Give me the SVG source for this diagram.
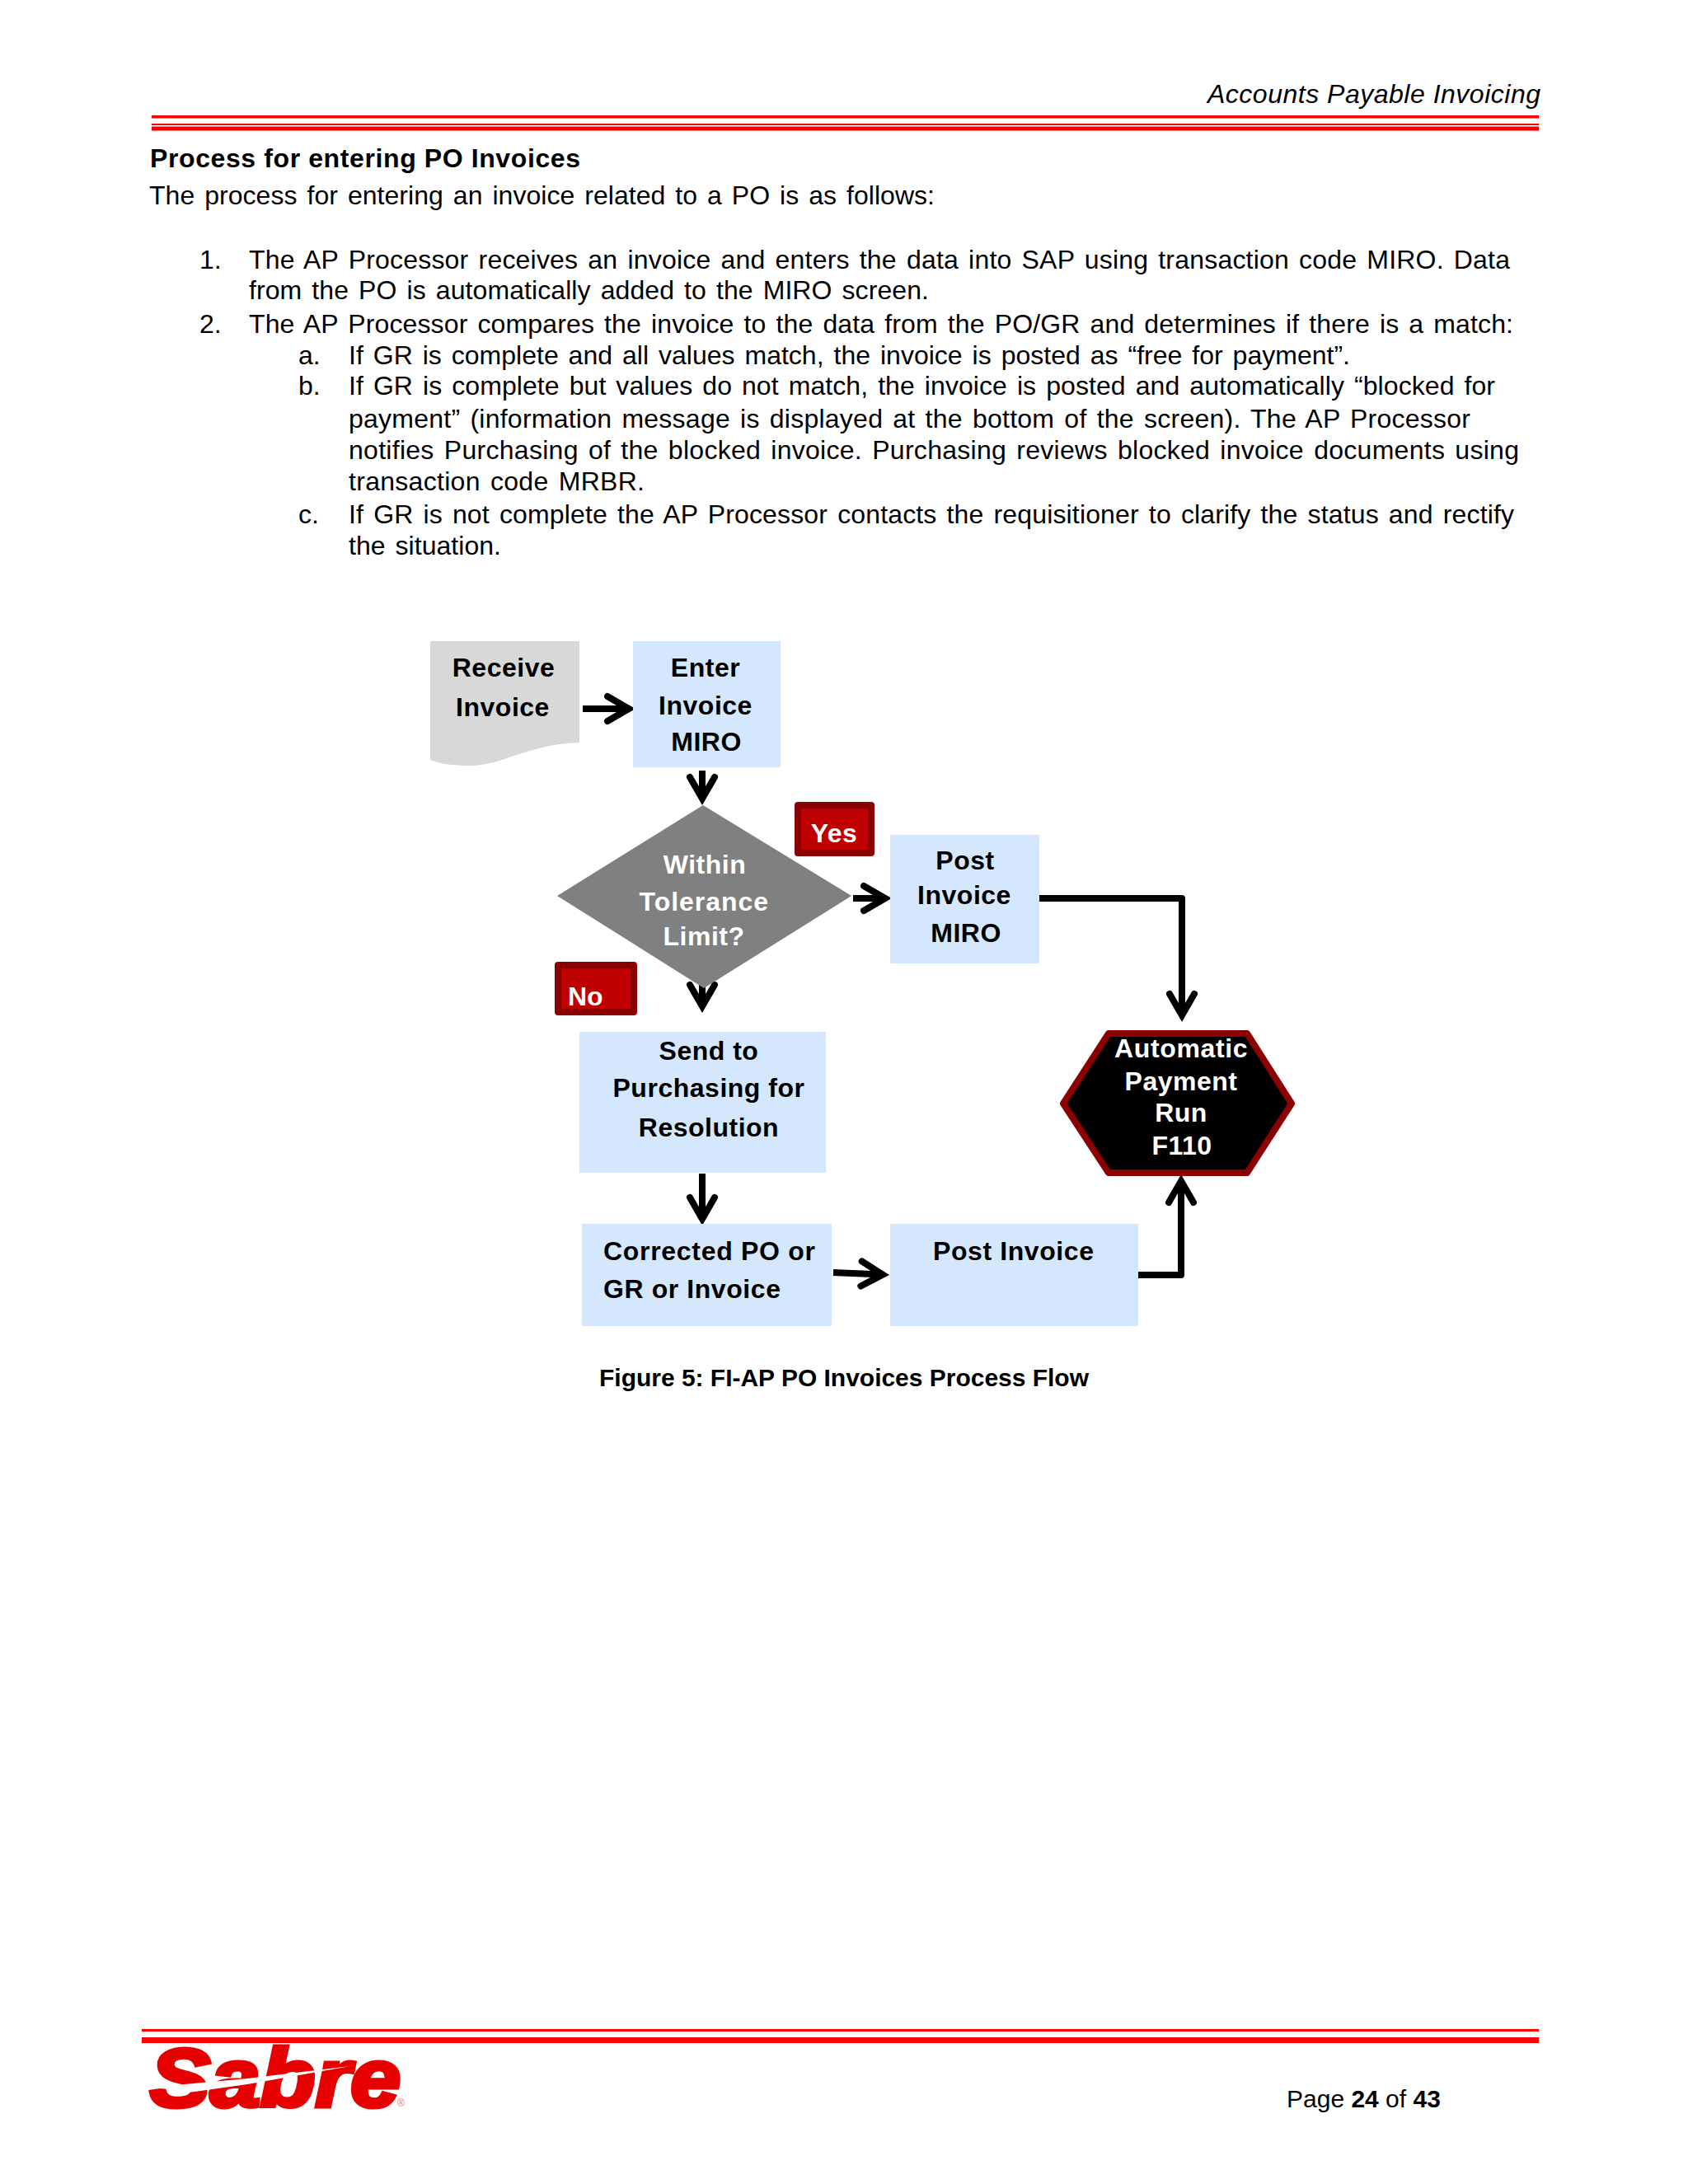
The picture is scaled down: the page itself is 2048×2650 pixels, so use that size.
<svg xmlns="http://www.w3.org/2000/svg" width="2048" height="2650" viewBox="0 0 2048 2650">
<style>
text{font-family:"Liberation Sans",Arial,sans-serif;font-size:32px;fill:#000}
.b{font-weight:700}
.t{word-spacing:3px}
.c{font-weight:700;text-anchor:middle;letter-spacing:.5px}
.w{fill:#fff}
.box{fill:#d4e7fd}
.rule{fill:#f00}
.tag{fill:#bf0000;stroke:#8b0000;stroke-width:8;stroke-linejoin:round}
.conn{fill:none;stroke:#000;stroke-width:8;stroke-linejoin:round}
</style>
<defs>
<marker id="head" markerUnits="userSpaceOnUse" viewBox="-36 -22 48 44" refX="0" refY="0" markerWidth="48" markerHeight="44" orient="auto">
<path d="M-26,-15 L0,0 L-26,15" fill="none" stroke="#000" stroke-width="8" stroke-linecap="round" stroke-linejoin="miter" stroke-miterlimit="10"/>
</marker>
</defs>
<rect width="2048" height="2650" fill="#fff"/>

<g id="header">
<text x="1465" y="125" font-style="italic" textLength="404">Accounts Payable Invoicing</text>
<rect class="rule" x="184" y="140" width="1683" height="3.5"/>
<rect class="rule" x="184" y="150" width="1683" height="2"/>
<rect class="rule" x="184" y="153.5" width="1683" height="5"/>
</g>

<g id="body">
<text class="b" x="182" y="203" textLength="522">Process for entering PO Invoices</text>
<text class="t" x="181" y="248" textLength="953">The process for entering an invoice related to a PO is as follows:</text>
<text x="242" y="326">1.</text>
<text class="t" x="302" y="326" textLength="1530">The AP Processor receives an invoice and enters the data into SAP using transaction code MIRO. Data</text>
<text class="t" x="302" y="363" textLength="825">from the PO is automatically added to the MIRO screen.</text>
<text x="242" y="404">2.</text>
<text class="t" x="302" y="404" textLength="1534">The AP Processor compares the invoice to the data from the PO/GR and determines if there is a match:</text>
<text x="362" y="442">a.</text>
<text class="t" x="423" y="442" textLength="1215">If GR is complete and all values match, the invoice is posted as “free for payment”.</text>
<text x="362" y="479">b.</text>
<text class="t" x="423" y="479" textLength="1391">If GR is complete but values do not match, the invoice is posted and automatically “blocked for</text>
<text class="t" x="423" y="519" textLength="1361">payment” (information message is displayed at the bottom of the screen). The AP Processor</text>
<text class="t" x="423" y="557" textLength="1420">notifies Purchasing of the blocked invoice. Purchasing reviews blocked invoice documents using</text>
<text class="t" x="423" y="595" textLength="359">transaction code MRBR.</text>
<text x="362" y="635">c.</text>
<text class="t" x="423" y="635" textLength="1414">If GR is not complete the AP Processor contacts the requisitioner to clarify the status and rectify</text>
<text class="t" x="423" y="673" textLength="185">the situation.</text>
</g>

<g id="connectors">
<path class="conn" marker-end="url(#head)" d="M707,860 L763,860"/>
<path class="conn" marker-end="url(#head)" d="M852,935 L852,969"/>
<path class="conn" marker-end="url(#head)" d="M1035,1090 L1074,1090"/>
<path class="conn" marker-end="url(#head)" d="M852,1195 L852,1221"/>
<path class="conn" marker-end="url(#head)" d="M852,1424 L852,1479"/>
<path class="conn" marker-end="url(#head)" d="M1011,1544 L1071,1546.6"/>
<path class="conn" marker-end="url(#head)" d="M1378,1547 L1433,1547 L1433,1433"/>
<path class="conn" marker-end="url(#head)" d="M1260,1090 L1434,1090 L1434,1232"/>
</g>

<g id="receive-invoice">
<path d="M522,778 H703 V901 C640,903 610,929 570,929 C550,929 535,927 522,922 Z" fill="#d8d8d8"/>
<text class="c" x="611" y="821">Receive</text>
<text class="c" x="610" y="869">Invoice</text>
</g>
<g id="enter-invoice">
<rect class="box" x="768" y="778" width="179" height="153"/>
<text class="c" x="856" y="821">Enter</text>
<text class="c" x="856" y="867">Invoice</text>
<text class="c" x="857" y="911">MIRO</text>
</g>
<g id="tolerance-decision">
<polygon points="853,977 1033,1087 854,1199 676,1087" fill="#808080"/>
<text class="c w" x="855" y="1060">Within</text>
<text class="c w" x="854" y="1105" textLength="157">Tolerance</text>
<text class="c w" x="854" y="1147">Limit?</text>
</g>
<g id="yes-tag">
<rect class="tag" x="968" y="977" width="89" height="58"/>
<text class="c w" x="1012" y="1022">Yes</text>
</g>
<g id="no-tag">
<rect class="tag" x="677" y="1171" width="92" height="57"/>
<text class="b w" x="689" y="1220">No</text>
</g>
<g id="post-invoice-miro">
<rect class="box" x="1080" y="1013" width="181" height="156"/>
<text class="c" x="1171" y="1055">Post</text>
<text class="c" x="1170" y="1097">Invoice</text>
<text class="c" x="1172" y="1143">MIRO</text>
</g>
<g id="send-to-purchasing">
<rect class="box" x="703" y="1252" width="299" height="171"/>
<text class="c" x="860" y="1286">Send to</text>
<text class="c" x="860" y="1331" textLength="233">Purchasing for</text>
<text class="c" x="860" y="1379">Resolution</text>
</g>
<g id="corrected-po">
<rect class="box" x="706" y="1485" width="303" height="124"/>
<text class="b" x="732" y="1529" textLength="257">Corrected PO or</text>
<text class="b" x="732" y="1575" textLength="215">GR or Invoice</text>
</g>
<g id="post-invoice">
<rect class="box" x="1080" y="1485" width="301" height="124"/>
<text class="b" x="1132" y="1529" textLength="195">Post Invoice</text>
</g>
<g id="payment-run">
<polygon points="1345,1254 1513,1254 1567,1339 1513,1423 1345,1423 1290,1339" fill="#000" stroke="#8b0000" stroke-width="8" stroke-linejoin="round"/>
<text class="c w" x="1433" y="1283" textLength="162">Automatic</text>
<text class="c w" x="1433" y="1323">Payment</text>
<text class="c w" x="1433" y="1361">Run</text>
<text class="c w" x="1434" y="1401">F110</text>
</g>

<text class="b" x="727" y="1682" style="font-size:30px" textLength="594">Figure 5: FI-AP PO Invoices Process Flow</text>

<g id="footer">
<rect class="rule" x="172" y="2462" width="1695" height="3"/>
<rect class="rule" x="172" y="2472" width="1695" height="7"/>
<text x="182" y="2556" textLength="304" lengthAdjust="spacingAndGlyphs" style="font-size:100px;font-weight:700;font-style:italic;fill:#e60000;stroke:#e60000;stroke-width:5">Sabre</text>
<polygon points="181,2533 300,2522 425,2507 300,2529 207,2542 205,2535" fill="#fff"/>
<text x="482" y="2556" style="font-size:12px;fill:#e87070">®</text>
<text x="1561" y="2557" style="font-size:30px">Page <tspan class="b">24</tspan> of <tspan class="b">43</tspan></text>
</g>
</svg>
